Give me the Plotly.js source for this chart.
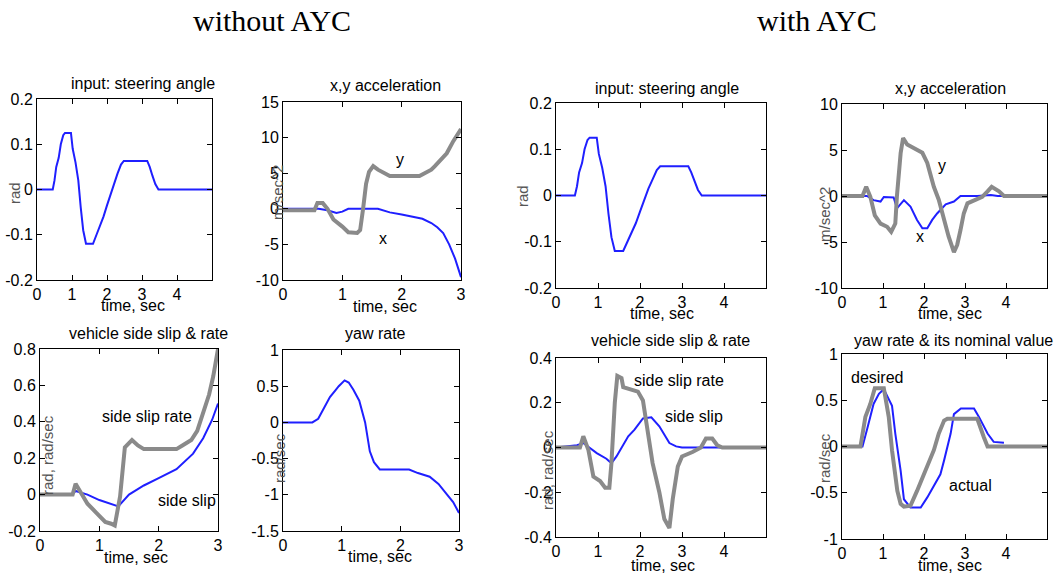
<!DOCTYPE html>
<html>
<head>
<meta charset="utf-8">
<script src="https://cdn.plot.ly/plotly-3.0.1.min.js"></script>
<style>html,body{margin:0;padding:0;background:#fff;}#chart{width:1063px;height:575px;}</style>
</head>
<body>
<div id="chart"></div>
<script>
// ---------- data ----------
// steering input (same input in both cases)
const steerT = [0,0.45,0.5,0.55,0.62,0.68,0.75,0.8,0.97,1.02,1.1,1.18,1.25,1.32,1.4,1.6,1.7,1.8,1.9,2.0,2.1,2.2,2.3,2.4,2.48,3.15,3.22,3.3,3.38,3.47,5];
const steerV = [0,0,0.02,0.05,0.07,0.1,0.12,0.125,0.125,0.09,0.06,0.02,-0.04,-0.09,-0.12,-0.12,-0.1,-0.08,-0.06,-0.035,-0.01,0.015,0.035,0.055,0.063,0.063,0.05,0.03,0.012,0,0];

// without AYC
const noAycAccYT = [0,0.53,0.58,0.67,0.75,0.85,1.0,1.1,1.25,1.3,1.35,1.4,1.45,1.52,1.6,1.7,1.8,2.3,2.4,2.5,2.56,2.65,2.76,2.87,3.0];
const noAycAccY  = [-0.2,-0.2,0.8,0.8,0,-1.5,-2.5,-3.3,-3.4,-3,0,3.5,5.2,6,5.5,5,4.6,4.6,5,5.5,6,6.8,7.8,9.5,11.2];
const noAycAccXT = [0,0.6,0.75,0.9,1.0,1.1,1.6,1.8,2.0,2.2,2.35,2.5,2.6,2.7,2.8,2.9,3.0];
const noAycAccX  = [0,0,-0.2,-0.6,-0.4,0,0,-0.5,-0.8,-1.1,-1.4,-2,-2.6,-3.4,-5,-7,-9.6];

const noAycSlipRateT = [0,0.55,0.6,0.7,0.8,0.95,1.1,1.2,1.26,1.35,1.43,1.55,1.65,1.75,2.3,2.4,2.55,2.65,2.75,2.85,2.92,3.0];
const noAycSlipRate  = [0,0,0.06,0,-0.05,-0.1,-0.15,-0.16,-0.17,-0.01,0.26,0.3,0.27,0.25,0.25,0.27,0.3,0.35,0.45,0.55,0.65,0.8];
const noAycSlipT = [0,0.55,0.6,0.8,1.0,1.25,1.32,1.5,1.75,2.0,2.3,2.58,2.75,2.9,3.0];
const noAycSlip  = [0,0,0.02,0,-0.03,-0.06,-0.065,0,0.05,0.09,0.14,0.225,0.31,0.41,0.5];

const noAycYawT = [0,0.5,0.6,0.7,0.8,0.9,0.95,1.05,1.12,1.2,1.3,1.4,1.48,1.55,1.65,2.15,2.3,2.5,2.65,2.8,2.9,3.0];
const noAycYaw  = [0,0,0.05,0.2,0.35,0.45,0.5,0.58,0.55,0.45,0.3,0,-0.4,-0.55,-0.65,-0.65,-0.7,-0.75,-0.85,-1.0,-1.1,-1.25];

// with AYC
const aycAccYT = [0,0.5,0.59,0.69,0.8,0.94,1.1,1.2,1.3,1.34,1.43,1.49,1.59,1.75,1.96,2.08,2.24,2.36,2.49,2.6,2.73,2.81,2.89,2.97,3.06,3.22,3.42,3.55,3.65,3.83,3.95,5];
const aycAccY  = [0,0,1,-0.07,-2.1,-3,-3.35,-3.9,-3,0,4.65,6.3,5.6,5.2,4.7,3.6,1,-0.4,-2.6,-4.4,-6.1,-5.3,-3.7,-1.9,-0.8,-0.45,-0.1,0.5,1,0.5,0,0];
const aycAccXT = [0,0.61,0.77,0.94,1.02,1.26,1.34,1.51,1.67,1.83,1.96,2.08,2.2,2.32,2.53,2.73,2.89,3.3,3.63,3.8,5];
const aycAccX  = [0,0,-0.45,-0.6,-0.1,-0.15,-1.35,-0.45,-1.15,-2.6,-3.5,-3.5,-2.6,-1.9,-0.9,-0.6,0,0,0.1,0,0];

const aycSlipRateT = [0,0.57,0.65,0.77,0.89,1.05,1.17,1.27,1.32,1.4,1.46,1.56,1.6,1.76,1.95,2.07,2.15,2.3,2.46,2.58,2.7,2.78,2.9,3.0,3.25,3.45,3.57,3.72,3.84,3.96,5];
const aycSlipRate  = [0,0,0.05,-0.01,-0.13,-0.15,-0.18,-0.18,-0.07,0.2,0.32,0.31,0.27,0.26,0.25,0.21,0.12,-0.07,-0.2,-0.32,-0.36,-0.23,-0.085,-0.04,-0.02,0,0.04,0.04,0.01,0,0];
const aycSlipT = [0,0.5,0.65,0.97,1.2,1.32,1.44,1.72,1.87,2.07,2.27,2.46,2.7,2.86,3.0,4.0];
const aycSlip  = [0,0.01,0.02,-0.025,-0.05,-0.07,-0.04,0.05,0.08,0.13,0.135,0.095,0.02,0.005,0,0];

const aycYawDesT = [0,0.45,0.57,0.69,0.8,1.02,1.14,1.22,1.35,1.43,1.51,1.67,1.83,2.04,2.24,2.36,2.49,2.57,3.3,3.46,3.55,5];
const aycYawDes  = [0,0,0.32,0.46,0.63,0.63,0.32,-0.04,-0.48,-0.62,-0.65,-0.64,-0.48,-0.26,-0.04,0.14,0.28,0.3,0.3,0.1,0,0];
const aycYawActT = [0,0.5,0.62,0.77,0.9,1.02,1.22,1.3,1.43,1.51,1.67,1.92,2.08,2.4,2.49,2.65,2.73,2.9,3.22,3.34,3.55,3.7,3.95];
const aycYawAct  = [0,0,0.2,0.46,0.57,0.62,0.44,0.14,-0.26,-0.57,-0.66,-0.66,-0.55,-0.3,-0.15,0.14,0.35,0.41,0.41,0.32,0.14,0.05,0.04];

// tick labels
const xTicks5 = [0,1,2,3,4];
const xTicks3 = [0,1,2,3];
const ySteer = [-0.2,-0.1,0,0.1,0.2];
const ySteerTxt = ["-0.2","-0.1","0","0.1","0.2"];
const yAcc1 = [-10,-5,0,5,10,15];
const yAcc1Txt = ["-10","-5","0","5","10","15"];
const yAcc2 = [-10,-5,0,5,10];
const yAcc2Txt = ["-10","-5","0","5","10"];
const ySlip1 = [-0.2,0,0.2,0.4,0.6,0.8];
const ySlip1Txt = ["-0.2","0","0.2","0.4","0.6","0.8"];
const ySlip2 = [-0.4,-0.2,0,0.2,0.4];
const ySlip2Txt = ["-0.4","-0.2","0","0.2","0.4"];
const yYaw1 = [-1.5,-1,-0.5,0,0.5,1];
const yYaw1Txt = ["-1.5","-1","-0.5","0","0.5","1"];
const yYaw2 = [-1,-0.5,0,0.5,1];
const yYaw2Txt = ["-1","-0.5","0","0.5","1"];

// ---------- styling ----------
const W = 1063, H = 575;
const BLUE = '#1f1fff', GRAY = '#8a8a8a';
const FONT = 'Liberation Sans, Arial, sans-serif';
const px = x => x / W;
const py = y => 1 - y / H;

function blue(t, v, n) { return {x: t, y: v, xaxis: 'x' + n, yaxis: 'y' + n, mode: 'lines', line: {color: BLUE, width: 2}, hoverinfo: 'skip'}; }
function gray(t, v, n) { return {x: t, y: v, xaxis: 'x' + n, yaxis: 'y' + n, mode: 'lines', line: {color: GRAY, width: 4}, hoverinfo: 'skip'}; }

const traces = [
  blue(steerT, steerV, ''),
  blue(noAycAccXT, noAycAccX, 2), gray(noAycAccYT, noAycAccY, 2),
  blue(noAycSlipT, noAycSlip, 3), gray(noAycSlipRateT, noAycSlipRate, 3),
  blue(noAycYawT, noAycYaw, 4),
  blue(steerT, steerV, 5),
  blue(aycAccXT, aycAccX, 6), gray(aycAccYT, aycAccY, 6),
  blue(aycSlipT, aycSlip, 7), gray(aycSlipRateT, aycSlipRate, 7),
  blue(aycYawActT, aycYawAct, 8), gray(aycYawDesT, aycYawDes, 8)
];

function axis(dom, range, tv, tt, anchor) {
  return {
    domain: dom, range: range, anchor: anchor,
    tickvals: tv, ticktext: tt || tv.map(String),
    ticks: 'inside', ticklen: 5, tickwidth: 1, tickcolor: '#000',
    showline: true, linecolor: '#000', linewidth: 1, mirror: 'ticks',
    showgrid: false, zeroline: false, fixedrange: true,
    tickfont: {family: FONT, size: 16, color: '#000'}
  };
}

// panel boxes in pixels: [left, right, top, bottom]
const boxes = [
  [37, 212, 99, 280], [283, 461, 102, 280], [40, 218, 349, 531], [283, 459, 350, 531],
  [556, 766, 103, 288], [842, 1047, 104, 288], [556, 766, 358, 537], [842, 1047, 354, 539]
];
const xr = [[0,5],[0,3],[0,3],[0,3],[0,5],[0,5],[0,5],[0,5]];
const xt = [xTicks5, xTicks3, xTicks3, xTicks3, xTicks5, xTicks5, xTicks5, xTicks5];
const yr = [[-0.2,0.2],[-10,15],[-0.2,0.8],[-1.5,1],[-0.2,0.2],[-10,10],[-0.4,0.4],[-1,1]];
const yt = [ySteer, yAcc1, ySlip1, yYaw1, ySteer, yAcc2, ySlip2, yYaw2];
const ytt = [ySteerTxt, yAcc1Txt, ySlip1Txt, yYaw1Txt, ySteerTxt, yAcc2Txt, ySlip2Txt, yYaw2Txt];

const layout = {
  width: W, height: H, margin: {l: 0, r: 0, t: 0, b: 0},
  paper_bgcolor: '#fff', plot_bgcolor: '#fff', showlegend: false,
  font: {family: FONT, size: 16, color: '#000'},
  annotations: []
};
for (let i = 0; i < 8; i++) {
  const b = boxes[i];
  const n = i === 0 ? '' : String(i + 1);
  layout['xaxis' + n] = axis([px(b[0]), px(b[1])], xr[i], xt[i], null, 'y' + n);
  layout['yaxis' + n] = axis([py(b[3]), py(b[2])], yr[i], yt[i], ytt[i], 'x' + n);
}

function note(text, x, y, opts) {
  return Object.assign({text: text, x: px(x), y: py(y), xref: 'paper', yref: 'paper', showarrow: false,
    xanchor: 'center', yanchor: 'middle', font: {family: FONT, size: 16, color: '#000'}}, opts || {});
}
function dnote(text, x, y, n) {
  return {text: text, x: x, y: y, xref: 'x' + n, yref: 'y' + n, showarrow: false,
    xanchor: 'center', yanchor: 'middle', font: {family: FONT, size: 16, color: '#000'}};
}
const A = layout.annotations;
// main headings
A.push(note('without AYC', 272, 20, {font: {family: 'Liberation Serif, Times New Roman, serif', size: 30, color: '#000'}}));
A.push(note('with AYC', 817, 20, {font: {family: 'Liberation Serif, Times New Roman, serif', size: 30, color: '#000'}}));
// panel titles
const titles = [
  ['input: steering angle', 143, 84], ['x,y acceleration', 385, 85],
  ['vehicle side slip &amp; rate', 148, 333], ['yaw rate', 375, 333],
  ['input: steering angle', 667, 88], ['x,y acceleration', 950, 88],
  ['vehicle side slip &amp; rate', 670, 340], ['yaw rate &amp; its nominal value', 953, 340]
];
titles.forEach(t => A.push(note(t[0], t[1], t[2])));
// x labels
const xlabs = [[133, 305], [385, 306], [136, 557], [380, 556], [662, 313], [950, 313], [663, 565], [950, 565]];
xlabs.forEach(p => A.push(note('time, sec', p[0], p[1])));
// y labels
const ylabs = [
  ['rad', 14, 193], ['m/sec^2', 277, 193], ['rad, rad/sec', 47, 455], ['rad/sec', 279, 458],
  ['rad', 522, 196], ['m/sec^2', 824, 215], ['rad, rad/sec', 547, 470], ['rad/sec', 824, 458]
];
ylabs.forEach(l => A.push(note(l[0], l[1], l[2], {textangle: -90, font: {family: FONT, size: 15, color: '#555'}})));
// curve labels
A.push(dnote('y', 1.97, 6.9, 2));
A.push(dnote('x', 1.68, -4.2, 2));
A.push(dnote('side slip rate', 1.8, 0.43, 3));
A.push(dnote('side slip', 2.47, -0.03, 3));
A.push(dnote('y', 2.44, 3.3, 6));
A.push(dnote('x', 1.9, -4.4, 6));
A.push(dnote('side slip rate', 2.94, 0.30, 7));
A.push(dnote('side slip', 3.29, 0.14, 7));
A.push(dnote('desired', 0.86, 0.75, 8));
A.push(dnote('actual', 3.14, -0.42, 8));

Plotly.newPlot('chart', traces, layout, {staticPlot: true, displayModeBar: false});
</script>
</body>
</html>
